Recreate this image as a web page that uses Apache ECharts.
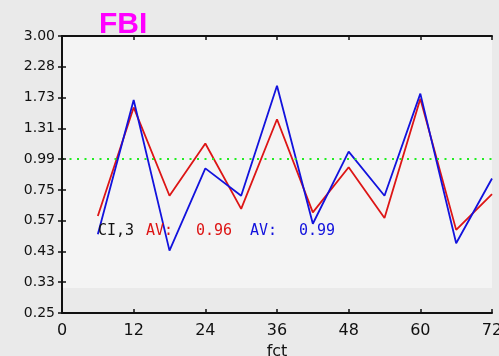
<!DOCTYPE html>
<html><head><meta charset="utf-8">
<script src="https://cdn.jsdelivr.net/npm/echarts@6/dist/echarts.min.js"></script>
<style>html,body{margin:0;padding:0;background:#eaeaea}#c{width:499px;height:356px}</style>
</head><body><div id="c"></div>
<script>
var titleText = 'FBI';
var xName = 'fct';
var xValues = [6, 12, 18, 24, 30, 36, 42, 48, 54, 60, 66, 72];
var redValues = [0.60, 1.59, 0.72, 1.15, 0.64, 1.43, 0.62, 0.93, 0.59, 1.72, 0.53, 0.73];
var blueValues = [0.51, 1.70, 0.44, 0.92, 0.72, 1.93, 0.56, 1.07, 0.72, 1.80, 0.47, 0.84];
var xMin = 0, xMax = 72, xStep = 12;
var yTickLabels = ['0.25', '0.33', '0.43', '0.57', '0.75', '0.99', '1.31', '1.73', '2.28', '3.00'];
var refValue = 1.0;
var bandTop = 0.315;
var annoTexts = ['CI,3', 'AV:', '0.96', 'AV:', '0.99'];

var yLo = parseFloat(yTickLabels[0]), yHi = parseFloat(yTickLabels[yTickLabels.length - 1]);
var logBase = Math.pow(yHi / yLo, 1 / (yTickLabels.length - 1));
var kLo = Math.round(Math.log(yLo) / Math.log(logBase));
var kHi = Math.round(Math.log(yHi) / Math.log(logBase));
var yMin = Math.pow(logBase, kLo), yMax = Math.pow(logBase, kHi);

function pairs(vals) { return xValues.map(function (x, i) { return [x, vals[i]]; }); }
function yLabel(v) {
  var k = Math.round(Math.log(v) / Math.log(logBase)) - kLo;
  return yTickLabels[k] || '';
}

var FONT = 'DejaVu Sans';
var axisLineStyle = { lineStyle: { color: '#111', width: 2 } };
var tickStyle = { show: true, inside: true, length: 4, lineStyle: { color: '#111', width: 1.5 } };

function xAx(pos, showLabel) {
  return {
    type: 'value', position: pos, min: xMin, max: xMax, interval: xStep, z: 10,
    axisLine: axisLineStyle, axisTick: tickStyle, splitLine: { show: false },
    axisLabel: { show: showLabel, fontSize: 16, color: '#111', fontFamily: FONT, margin: 10, hideOverlap: false },
    name: showLabel ? xName : '', nameLocation: 'middle', nameGap: 31,
    nameTextStyle: { fontSize: 16, color: '#111', fontFamily: FONT }
  };
}
function yAx(pos, showLabel) {
  return {
    type: 'log', logBase: logBase, position: pos, min: yMin, max: yMax, splitNumber: yTickLabels.length - 1, z: 10,
    axisLine: axisLineStyle, axisTick: tickStyle, splitLine: { show: false }, minorTick: { show: false },
    axisLabel: { show: showLabel, fontSize: 14, color: '#111', fontFamily: FONT, margin: 7, formatter: yLabel }
  };
}

var annoFont = '15px "DejaVu Sans Mono"';
var chart = echarts.init(document.getElementById('c'), null, { renderer: 'canvas' });
chart.setOption({
  backgroundColor: '#eaeaea',
  animation: false,
  title: { text: titleText, left: 94, top: 5, textStyle: { fontSize: 30, fontWeight: 'bold', color: '#ff00ff', fontFamily: 'Liberation Sans' } },
  grid: { left: 62, right: 7, top: 36, bottom: 43, show: true, backgroundColor: '#f4f4f4', borderWidth: 0, containLabel: false, outerBoundsMode: 'none' },
  xAxis: [xAx('bottom', true), xAx('top', false)],
  yAxis: [yAx('left', true), yAx('right', false)],
  series: [
    {
      type: 'line', data: pairs(redValues), symbol: 'none', xAxisIndex: 0, yAxisIndex: 0,
      lineStyle: { color: '#dd1515', width: 1.8 }, z: 3,
      markLine: {
        silent: true, symbol: 'none', label: { show: false },
        lineStyle: { color: '#22ee22', width: 2, type: [2, 5.5] },
        data: [{ yAxis: refValue }]
      },
      markArea: {
        silent: true, itemStyle: { color: '#eaeaea' },
        data: [[{ yAxis: yMin }, { yAxis: bandTop }]]
      }
    },
    {
      type: 'line', data: pairs(blueValues), symbol: 'none', xAxisIndex: 0, yAxisIndex: 0,
      lineStyle: { color: '#1212dd', width: 1.8 }, z: 4
    }
  ],
  graphic: [
    { type: 'text', left: 98, top: 224, z: 10, style: { text: annoTexts[0], fill: '#111', font: annoFont } },
    { type: 'text', left: 146, top: 224, z: 10, style: { text: annoTexts[1], fill: '#dd1515', font: annoFont } },
    { type: 'text', left: 196, top: 224, z: 10, style: { text: annoTexts[2], fill: '#dd1515', font: annoFont } },
    { type: 'text', left: 250, top: 224, z: 10, style: { text: annoTexts[3], fill: '#1212dd', font: annoFont } },
    { type: 'text', left: 299, top: 224, z: 10, style: { text: annoTexts[4], fill: '#1212dd', font: annoFont } }
  ]
});
</script></body></html>
